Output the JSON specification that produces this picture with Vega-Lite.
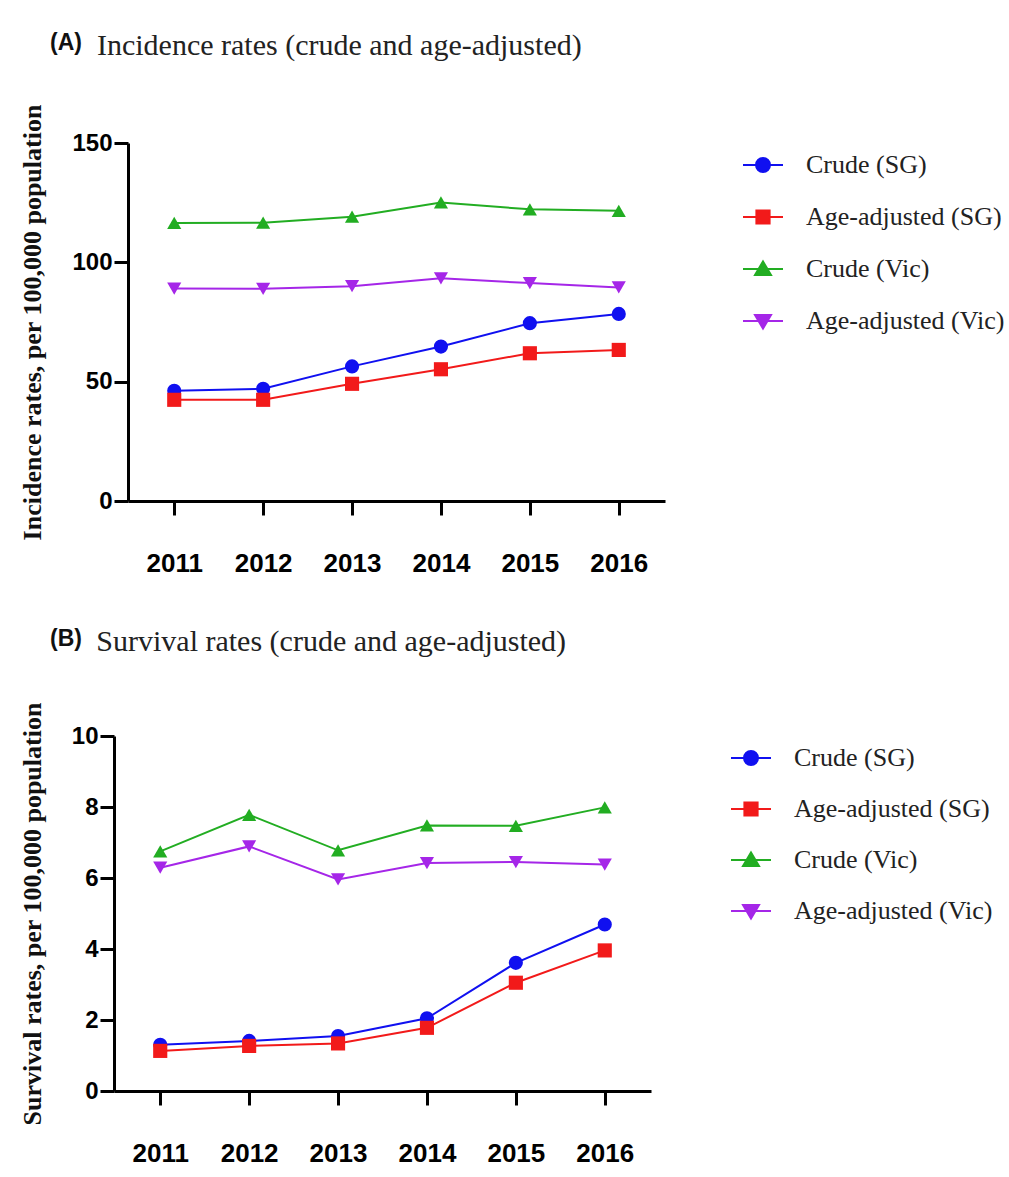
{
  "$schema": "https://vega.github.io/schema/vega-lite/v6.json",
  "background": "white",
  "padding": {"left": -1, "top": 30, "right": 0, "bottom": 0},
  "spacing": 50,
  "resolve": {"scale": {"color": "independent", "shape": "independent", "x": "independent", "y": "independent"}, "legend": {"color": "independent", "shape": "independent"}},
  "config": {
    "view": {"stroke": null},
    "axis": {
      "domainColor": "#000", "domainWidth": 3, "tickColor": "#000", "tickWidth": 3, "tickSize": 14,
      "labelColor": "#000", "labelFont": "Liberation Sans", "labelFontWeight": "bold",
      "titleColor": "#111", "titleFont": "Liberation Serif", "titleFontWeight": "bold", "titleFontSize": 26,
      "grid": false
    },
    "legend": {
      "title": null, "orient": "right", "padding": 1,
      "labelFont": "Liberation Serif", "labelFontSize": 26, "labelColor": "#222", "labelOffset": 22,
      "labelLimit": 400, "symbolSize": 1600, "symbolStrokeWidth": 2, "symbolOpacity": 1
    }
  },
  "vconcat": [
    {
      "title": {"text": "(A)", "font": "Liberation Sans", "fontWeight": "bold", "fontSize": 23, "color": "#111", "anchor": "start", "frame": "bounds", "offset": 0, "dx": 51, "dy": 24},
      "spacing": 0,
      "resolve": {"scale": {"color": "independent", "shape": "independent"}, "legend": {"color": "independent", "shape": "independent"}},
      "hconcat": [
        {"width": 0, "height": 1, "data": {"values": []}, "mark": "point"},
        {
          "width": 537,
          "height": 358,
          "title": {"text": "Incidence rates (crude and age-adjusted)", "font": "Liberation Serif", "fontWeight": "normal", "fontSize": 30, "color": "#222", "anchor": "start", "frame": "bounds", "offset": 43, "dx": 77},
          "data": {"values": [
            {"year": "2011", "series": "Crude (SG)", "value": 46.2},
            {"year": "2012", "series": "Crude (SG)", "value": 47.0},
            {"year": "2013", "series": "Crude (SG)", "value": 56.4},
            {"year": "2014", "series": "Crude (SG)", "value": 64.7},
            {"year": "2015", "series": "Crude (SG)", "value": 74.5},
            {"year": "2016", "series": "Crude (SG)", "value": 78.4},
            {"year": "2011", "series": "Age-adjusted (SG)", "value": 42.4},
            {"year": "2012", "series": "Age-adjusted (SG)", "value": 42.4},
            {"year": "2013", "series": "Age-adjusted (SG)", "value": 49.1},
            {"year": "2014", "series": "Age-adjusted (SG)", "value": 55.2},
            {"year": "2015", "series": "Age-adjusted (SG)", "value": 61.9},
            {"year": "2016", "series": "Age-adjusted (SG)", "value": 63.3},
            {"year": "2011", "series": "Crude (Vic)", "value": 116.5},
            {"year": "2012", "series": "Crude (Vic)", "value": 116.6},
            {"year": "2013", "series": "Crude (Vic)", "value": 119.1},
            {"year": "2014", "series": "Crude (Vic)", "value": 125.1},
            {"year": "2015", "series": "Crude (Vic)", "value": 122.2},
            {"year": "2016", "series": "Crude (Vic)", "value": 121.6},
            {"year": "2011", "series": "Age-adjusted (Vic)", "value": 89.0},
            {"year": "2012", "series": "Age-adjusted (Vic)", "value": 88.9},
            {"year": "2013", "series": "Age-adjusted (Vic)", "value": 90.0},
            {"year": "2014", "series": "Age-adjusted (Vic)", "value": 93.3},
            {"year": "2015", "series": "Age-adjusted (Vic)", "value": 91.3},
            {"year": "2016", "series": "Age-adjusted (Vic)", "value": 89.5}
          ]},
          "encoding": {
            "x": {"field": "year", "type": "ordinal", "scale": {"type": "point", "padding": 0.52},
                  "axis": {"title": null, "labelAngle": 0, "labelFontSize": 26, "labelPadding": 35}},
            "y": {"field": "value", "type": "quantitative", "scale": {"domain": [0, 150], "nice": false},
                  "axis": {"values": [0, 50, 100, 150], "title": "Incidence rates, per 100,000 population", "titlePadding": 26, "labelFontSize": 24, "labelPadding": 2}},
            "color": {"field": "series", "type": "nominal",
              "scale": {"domain": ["Crude (SG)", "Age-adjusted (SG)", "Crude (Vic)", "Age-adjusted (Vic)"], "range": ["#1010f0", "#f21a1a", "#22ad22", "#a526e8"]},
              "legend": {"offset": 76, "rowPadding": 18,
                "encode": {"symbols": {"update": {
                  "shape": {"signal": "datum.value === 'Crude (SG)' ? 'M-1,0H1M0.35,0A0.35,0.35,0,1,1,-0.35,0A0.35,0.35,0,1,1,0.35,0Z' : datum.value === 'Age-adjusted (SG)' ? 'M-1,0H1M-0.33,-0.33H0.33V0.33H-0.33Z' : datum.value === 'Crude (Vic)' ? 'M-1,0H1M0,-0.38L0.4,0.3H-0.4Z' : 'M-1,0H1M0,0.38L0.4,-0.3H-0.4Z'"},
                  "fill": {"signal": "datum.value === 'Crude (SG)' ? '#1010f0' : datum.value === 'Age-adjusted (SG)' ? '#f21a1a' : datum.value === 'Crude (Vic)' ? '#22ad22' : '#a526e8'"},
                  "stroke": {"signal": "datum.value === 'Crude (SG)' ? '#1010f0' : datum.value === 'Age-adjusted (SG)' ? '#f21a1a' : datum.value === 'Crude (Vic)' ? '#22ad22' : '#a526e8'"},
                  "strokeWidth": {"value": 2},
                  "opacity": {"value": 1}
                }}}}}
          },
          "layer": [
            {"mark": {"type": "line", "strokeWidth": 2}},
            {"mark": {"type": "point", "filled": true, "opacity": 1, "size": 200},
             "encoding": {"shape": {"field": "series", "type": "nominal",
               "scale": {"domain": ["Crude (Vic)", "Age-adjusted (Vic)", "Crude (SG)", "Age-adjusted (SG)"], "range": ["triangle-up", "triangle-down", "circle", "square"]},
               "legend": null}}}
          ]
        }
      ]
    },
    {
      "title": {"text": "(B)", "font": "Liberation Sans", "fontWeight": "bold", "fontSize": 23, "color": "#111", "anchor": "start", "frame": "bounds", "offset": 0, "dx": 51, "dy": 24},
      "spacing": 0,
      "resolve": {"scale": {"color": "independent", "shape": "independent"}, "legend": {"color": "independent", "shape": "independent"}},
      "hconcat": [
        {"width": 0, "height": 1, "data": {"values": []}, "mark": "point"},
        {
          "width": 537,
          "height": 355,
          "title": {"text": "Survival rates (crude and age-adjusted)", "font": "Liberation Serif", "fontWeight": "normal", "fontSize": 30, "color": "#222", "anchor": "start", "frame": "bounds", "offset": 45, "dx": 77},
          "data": {"values": [
            {"year": "2011", "series": "Crude (SG)", "value": 1.30},
            {"year": "2012", "series": "Crude (SG)", "value": 1.41},
            {"year": "2013", "series": "Crude (SG)", "value": 1.55},
            {"year": "2014", "series": "Crude (SG)", "value": 2.05},
            {"year": "2015", "series": "Crude (SG)", "value": 3.61},
            {"year": "2016", "series": "Crude (SG)", "value": 4.69},
            {"year": "2011", "series": "Age-adjusted (SG)", "value": 1.13},
            {"year": "2012", "series": "Age-adjusted (SG)", "value": 1.27},
            {"year": "2013", "series": "Age-adjusted (SG)", "value": 1.34},
            {"year": "2014", "series": "Age-adjusted (SG)", "value": 1.78},
            {"year": "2015", "series": "Age-adjusted (SG)", "value": 3.05},
            {"year": "2016", "series": "Age-adjusted (SG)", "value": 3.96},
            {"year": "2011", "series": "Crude (Vic)", "value": 6.75},
            {"year": "2012", "series": "Crude (Vic)", "value": 7.78},
            {"year": "2013", "series": "Crude (Vic)", "value": 6.78},
            {"year": "2014", "series": "Crude (Vic)", "value": 7.48},
            {"year": "2015", "series": "Crude (Vic)", "value": 7.47},
            {"year": "2016", "series": "Crude (Vic)", "value": 7.99},
            {"year": "2011", "series": "Age-adjusted (Vic)", "value": 6.29},
            {"year": "2012", "series": "Age-adjusted (Vic)", "value": 6.89},
            {"year": "2013", "series": "Age-adjusted (Vic)", "value": 5.96},
            {"year": "2014", "series": "Age-adjusted (Vic)", "value": 6.42},
            {"year": "2015", "series": "Age-adjusted (Vic)", "value": 6.45},
            {"year": "2016", "series": "Age-adjusted (Vic)", "value": 6.38}
          ]},
          "encoding": {
            "x": {"field": "year", "type": "ordinal", "scale": {"type": "point", "padding": 0.52},
                  "axis": {"title": null, "labelAngle": 0, "labelFontSize": 26, "labelPadding": 35}},
            "y": {"field": "value", "type": "quantitative", "scale": {"domain": [0, 10], "nice": false},
                  "axis": {"values": [0, 2, 4, 6, 8, 10], "title": "Survival rates, per 100,000 population", "titlePadding": 26, "labelFontSize": 24, "labelPadding": 2}},
            "color": {"field": "series", "type": "nominal",
              "scale": {"domain": ["Crude (SG)", "Age-adjusted (SG)", "Crude (Vic)", "Age-adjusted (Vic)"], "range": ["#1010f0", "#f21a1a", "#22ad22", "#a526e8"]},
              "legend": {"offset": 78, "rowPadding": 17,
                "encode": {"symbols": {"update": {
                  "shape": {"signal": "datum.value === 'Crude (SG)' ? 'M-1,0H1M0.35,0A0.35,0.35,0,1,1,-0.35,0A0.35,0.35,0,1,1,0.35,0Z' : datum.value === 'Age-adjusted (SG)' ? 'M-1,0H1M-0.33,-0.33H0.33V0.33H-0.33Z' : datum.value === 'Crude (Vic)' ? 'M-1,0H1M0,-0.38L0.4,0.3H-0.4Z' : 'M-1,0H1M0,0.38L0.4,-0.3H-0.4Z'"},
                  "fill": {"signal": "datum.value === 'Crude (SG)' ? '#1010f0' : datum.value === 'Age-adjusted (SG)' ? '#f21a1a' : datum.value === 'Crude (Vic)' ? '#22ad22' : '#a526e8'"},
                  "stroke": {"signal": "datum.value === 'Crude (SG)' ? '#1010f0' : datum.value === 'Age-adjusted (SG)' ? '#f21a1a' : datum.value === 'Crude (Vic)' ? '#22ad22' : '#a526e8'"},
                  "strokeWidth": {"value": 2},
                  "opacity": {"value": 1}
                }}}}}
          },
          "layer": [
            {"mark": {"type": "line", "strokeWidth": 2}},
            {"mark": {"type": "point", "filled": true, "opacity": 1, "size": 200},
             "encoding": {"shape": {"field": "series", "type": "nominal",
               "scale": {"domain": ["Crude (Vic)", "Age-adjusted (Vic)", "Crude (SG)", "Age-adjusted (SG)"], "range": ["triangle-up", "triangle-down", "circle", "square"]},
               "legend": null}}}
          ]
        }
      ]
    }
  ]
}
